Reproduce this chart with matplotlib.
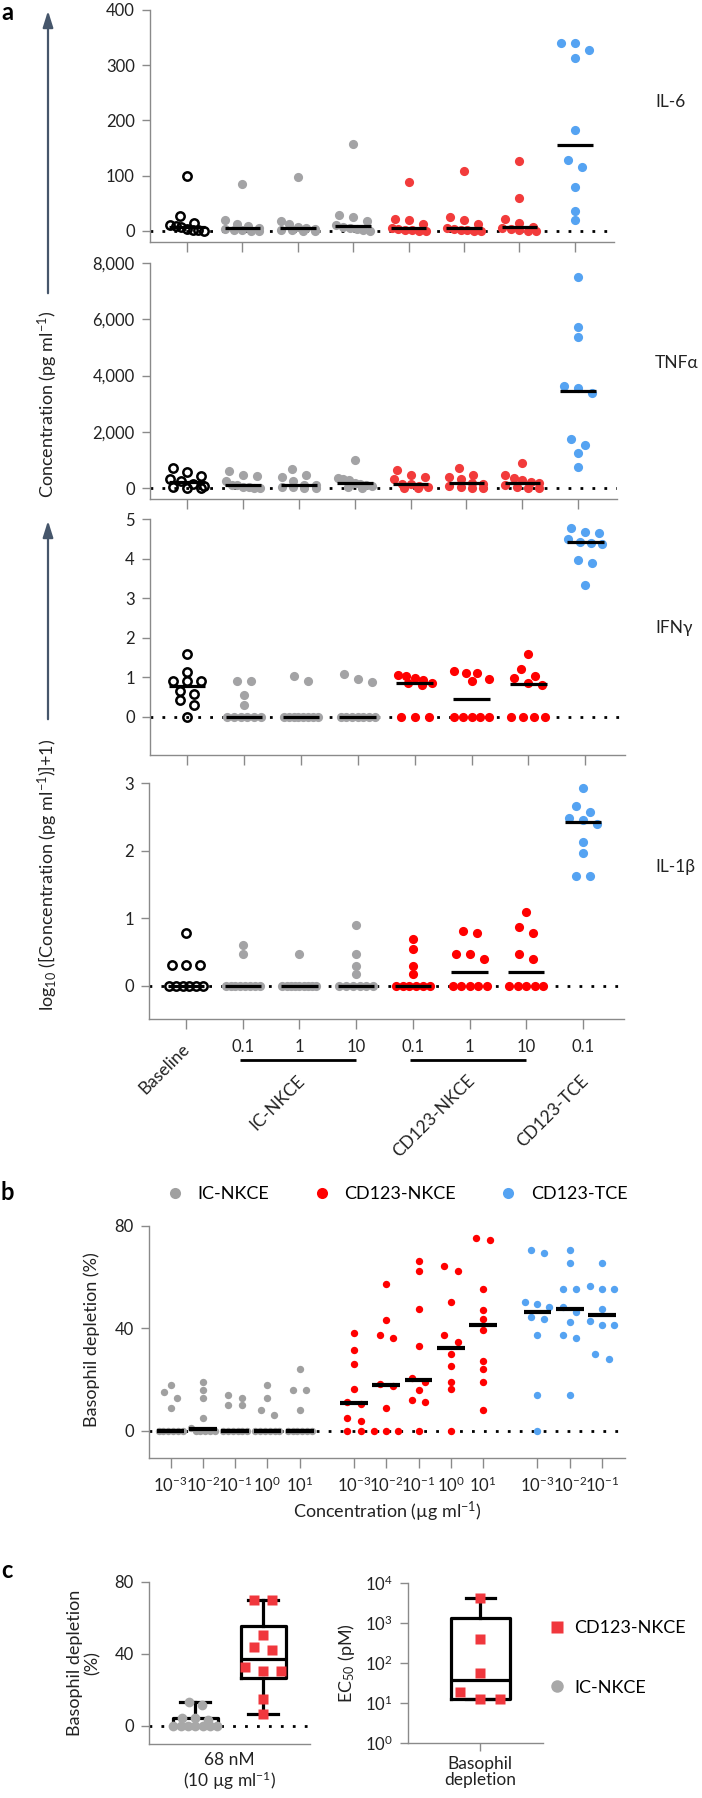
import numpy as np
import matplotlib
matplotlib.use('Agg')
import matplotlib.pyplot as plt
import matplotlib.transforms as mtransforms
from matplotlib.lines import Line2D
from matplotlib.patches import FancyArrowPatch

plt.rcParams['font.family'] = ['Lato', 'DejaVu Sans']
plt.rcParams['mathtext.fontset'] = 'custom'
plt.rcParams['mathtext.rm'] = 'Lato'
plt.rcParams['mathtext.it'] = 'Lato:italic'
plt.rcParams['mathtext.bf'] = 'Lato:bold'

W, H = 702, 1798
SPINE = '#8a8a8a'
TXT = '#222222'
GRAY = '#a3a3a5'
BLUE = '#55a3f2'

# ---------------- panel a: cytokines, 8 groups x 10 donors ----------------
a_groups = ['Baseline', 'IC-NKCE', 'CD123-NKCE', 'CD123-TCE']
a_doses = ['', '0.1', '1', '10', '0.1', '1', '10', '0.1']

il6 = [
    [100, 27, 15, 11, 9, 7, 3, 2, 1, 0],
    [85, 20, 12, 9, 6, 3, 2, 1, 0, 0],
    [97, 18, 12, 8, 6, 4, 2, 1, 0, 0],
    [157, 28, 25, 18, 10, 8, 5, 3, 1, 0],
    [88, 22, 20, 12, 6, 4, 2, 1, 0, 0],
    [108, 25, 20, 13, 6, 4, 2, 1, 0, 0],
    [126, 60, 22, 15, 8, 5, 3, 1, 0, 0],
    [340, 340, 328, 313, 183, 129, 116, 80, 36, 20],
]
tnfa = [
    [700, 560, 420, 330, 250, 150, 60, 30, 10, 0],
    [620, 480, 420, 250, 120, 90, 50, 30, 10, 0],
    [680, 460, 380, 250, 120, 100, 50, 30, 10, 0],
    [1000, 360, 320, 290, 180, 150, 120, 80, 40, 0],
    [640, 480, 400, 320, 160, 140, 80, 40, 10, 0],
    [700, 460, 400, 330, 180, 160, 80, 40, 10, 0],
    [900, 460, 360, 300, 200, 180, 100, 50, 10, 0],
    [7520, 5740, 5360, 3640, 3540, 3380, 1740, 1530, 1260, 760],
]
ifng = [
    [1.59, 1.13, 0.89, 0.89, 0.89, 0.64, 0.58, 0.41, 0.30, 0.0],
    [0.89, 0.89, 0.56, 0.30, 0, 0, 0, 0, 0, 0],
    [1.04, 0.89, 0, 0, 0, 0, 0, 0, 0, 0],
    [1.08, 0.96, 0.88, 0, 0, 0, 0, 0, 0, 0],
    [1.05, 1.02, 0.98, 0.92, 0.86, 0.84, 0.80, 0, 0, 0],
    [1.15, 1.10, 1.10, 0.96, 0.90, 0, 0, 0, 0, 0],
    [1.59, 1.21, 1.03, 0.98, 0.84, 0.80, 0, 0, 0, 0],
    [4.78, 4.67, 4.64, 4.50, 4.42, 4.40, 4.38, 3.96, 3.89, 3.32],
]
il1b = [
    [0.78, 0.31, 0.31, 0.31, 0, 0, 0, 0, 0, 0],
    [0.60, 0.47, 0, 0, 0, 0, 0, 0, 0, 0],
    [0.47, 0, 0, 0, 0, 0, 0, 0, 0, 0],
    [0.90, 0.47, 0.30, 0.17, 0, 0, 0, 0, 0, 0],
    [0.70, 0.55, 0.30, 0.18, 0, 0, 0, 0, 0, 0],
    [0.81, 0.78, 0.47, 0.47, 0.40, 0, 0, 0, 0, 0],
    [1.09, 0.87, 0.78, 0.47, 0.40, 0, 0, 0, 0, 0],
    [2.92, 2.66, 2.57, 2.48, 2.45, 2.40, 2.13, 1.97, 1.62, 1.62],
]

# ---------------- panel b: basophil depletion vs concentration ----------------
b_ticklabels = [r'$10^{-3}$', r'$10^{-2}$', r'$10^{-1}$', r'$10^{0}$', r'$10^{1}$',
                r'$10^{-3}$', r'$10^{-2}$', r'$10^{-1}$', r'$10^{0}$', r'$10^{1}$',
                r'$10^{-3}$', r'$10^{-2}$', r'$10^{-1}$']
b_ic_nkce = [
    [18, 15, 13, 9, 0, 0, 0, 0, 0, 0],
    [19, 16, 13, 5, 1.3, 0, 0, 0, 0, 0],
    [14, 13, 10, 10, 0, 0, 0, 0, 0, 0],
    [18, 13, 8, 6, 0, 0, 0, 0, 0, 0],
    [24, 16, 16, 8, 0, 0, 0, 0, 0, 0],
]
b_cd123_nkce = [
    [38.3, 31.4, 26.3, 16.4, 11.2, 10.4, 5.0, 4.0, 0, 0],
    [57.5, 43.4, 37.3, 36.4, 18.2, 17.4, 9.1, 0, 0, 0],
    [66.4, 62.5, 47.5, 33.3, 20.7, 19.0, 16.1, 12.2, 11.3, 0],
    [64.4, 62.5, 50.5, 37.3, 34.6, 30.2, 25.5, 19.2, 16.3, 0],
    [75.5, 74.6, 55.3, 47.3, 43.5, 39.3, 27.3, 24.2, 19.1, 8.2],
]
b_cd123_tce = [
    [70.6, 69.4, 50.3, 49.4, 48.5, 44.4, 43.5, 37.3, 14.1, 0],
    [70.6, 65.7, 55.3, 55.3, 48.5, 46.4, 42.5, 37.3, 36.3, 14.1],
    [65.7, 56.6, 55.3, 55.3, 47.5, 43.0, 41.3, 41.3, 30.2, 28.2],
]

# ---------------- panel c ----------------
c_ic_nkce = [13.2, 11.8, 4.6, 4.3, 3.5, 0, 0, 0, 0, 0, 0, 0]
c_cd123_nkce = [70, 70, 50.4, 43.7, 42.4, 32.6, 30.7, 30.7, 14.9, 6.7]
c_ec50 = [4200, 405, 56, 19, 12.8, 12.3]


def fig_ax(fig, left, top, right, bottom):
    return fig.add_axes([left / W, 1 - bottom / H, (right - left) / W, (bottom - top) / H])


def style(ax):
    for s in ['top', 'right']:
        ax.spines[s].set_visible(False)
    for s in ['left', 'bottom']:
        ax.spines[s].set_color(SPINE)
        ax.spines[s].set_linewidth(1)
    ax.tick_params(axis='both', colors=SPINE, labelcolor=TXT, labelsize=12,
                   length=6, width=1, pad=5)


def swarm_x(ax, center, values, row_px, step_px, half_px):
    values = np.asarray(values, float)
    n = len(values)
    disp = ax.transData.transform(np.column_stack([np.full(n, center), values]))
    order = np.argsort(-values, kind='stable')
    rows = []
    for i in order:
        if rows and abs(disp[rows[-1][0], 1] - disp[i, 1]) < row_px:
            rows[-1].append(i)
        else:
            rows.append([i])
    off = np.zeros(n)
    for r in rows:
        k = len(r)
        if k > 1:
            step = min(step_px, 2 * half_px / (k - 1))
            off[r] = (np.arange(k) - (k - 1) / 2) * step
    disp[:, 0] += off
    return ax.transData.inverted().transform(disp)[:, 0]


def dotted_zero(ax, lw=2):
    ax.axhline(0, color='black', lw=lw, ls=(0, (1, 3.3)), zorder=1)


def cyto_panel(ax, data, ylim, yticks, yticklabels, red, name, name_y):
    style(ax)
    ax.set_ylim(ylim)
    ax.set_yticks(yticks)
    ax.set_yticklabels(yticklabels)
    ax.set_xticks(range(8))
    ax.tick_params(axis='x', length=7, labelbottom=False)
    dotted_zero(ax)
    colors = ['black', GRAY, GRAY, GRAY, red, red, red, BLUE]
    for i, vals in enumerate(data):
        xs = swarm_x(ax, i, vals, 8, 14, 17)
        if i == 0:
            ax.plot(xs, vals, 'o', mfc='none', mec='black', mew=1.8, ms=6,
                    ls='none', zorder=3)
        else:
            ax.plot(xs, vals, 'o', color=colors[i], mec='none', ms=6.6,
                    ls='none', zorder=3)
        ax.hlines(np.median(vals), i - 0.32, i + 0.32, color='black', lw=2.3, zorder=4)
    ax.text(655 / W, 1 - name_y / H, name, transform=ax.figure.transFigure,
            ha='left', va='center', fontsize=12.5, color=TXT)


fig = plt.figure(figsize=(W / 100, H / 100), dpi=100)

# -------- panel a --------
ax_il6 = fig_ax(fig, 150, 10, 614, 242)
ax_il6.set_xlim((150 - 187) / 55.4, (614 - 187) / 55.4)
cyto_panel(ax_il6, il6, (-20, 400), [0, 100, 200, 300, 400],
           ['0', '100', '200', '300', '400'], '#f23b3b', 'IL-6', 102)

ax_tnf = fig_ax(fig, 150, 263, 617, 499)
ax_tnf.set_xlim((150 - 187) / 55.9, (617 - 187) / 55.9)
cyto_panel(ax_tnf, tnfa, (-391, 8000), [0, 2000, 4000, 6000, 8000],
           ['0', '2,000', '4,000', '6,000', '8,000'], '#f23b3b', 'TNFα', 363)

ax_ifn = fig_ax(fig, 150, 519, 625, 755)
ax_ifn.set_xlim((150 - 187) / 56.9, (625 - 187) / 56.9)
cyto_panel(ax_ifn, ifng, (-0.97, 5), [0, 1, 2, 3, 4, 5],
           ['0', '1', '2', '3', '4', '5'], '#ff0000', 'IFNγ', 628)

ax_il1 = fig_ax(fig, 149, 783, 624, 1019)
ax_il1.set_xlim((149 - 186) / 56.7, (624 - 186) / 56.7)
cyto_panel(ax_il1, il1b, (-0.49, 3), [0, 1, 2, 3],
           ['0', '1', '2', '3'], '#ff0000', 'IL-1β', 867)

# category labels under IL-1b
bt = mtransforms.blended_transform_factory(ax_il1.transData, fig.transFigure)
for i, d in enumerate(a_doses):
    if d:
        ax_il1.text(i, 1 - 1047 / H, d, transform=bt, ha='center', va='center',
                    fontsize=12, color=TXT)
for x0, x1 in [(0.95, 3.0), (3.95, 6.0)]:
    ax_il1.plot([x0, x1], [1 - 1060 / H] * 2, transform=bt, color='black',
                lw=2, clip_on=False, solid_capstyle='butt')
for x, lab, y in [(0.02, a_groups[0], 1046), (2.05, a_groups[1], 1078),
                  (5.05, a_groups[2], 1078), (7.05, a_groups[3], 1078)]:
    ax_il1.text(x, 1 - y / H, lab, transform=bt, ha='right', va='center',
                rotation=45, rotation_mode='anchor', fontsize=12.5, color=TXT)

# left axis titles with arrows
arrow_kw = dict(transform=fig.transFigure, arrowstyle='-|>,head_width=0.22,head_length=0.7',
                mutation_scale=14, lw=1.6, color='#46566b')
fig.add_artist(FancyArrowPatch((48 / W, 1 - 296 / H), (48 / W, 1 - 8 / H), **arrow_kw))
fig.add_artist(FancyArrowPatch((48 / W, 1 - 722 / H), (48 / W, 1 - 518 / H), **arrow_kw))
fig.text(48 / W, 1 - 404 / H, r'Concentration (pg ml$^{-1}$)', rotation=90,
         ha='center', va='center', fontsize=13, color=TXT)
fig.text(48 / W, 1 - 875 / H, r'log$_{10}$ ([Concentration (pg ml$^{-1}$)]+1)',
         rotation=90, ha='center', va='center', fontsize=13, color=TXT)

# -------- panel b --------
ax_b = fig_ax(fig, 149, 1226, 625, 1458)
style(ax_b)
b_pos = np.r_[np.arange(5), np.arange(5) + 5.68, np.arange(3) + 11.36]
ax_b.set_xlim((149 - 170.5) / 32.3, (625 - 170.5) / 32.3)
ax_b.set_ylim(-10.6, 80)
ax_b.set_yticks([0, 40, 80])
ax_b.set_xticks(b_pos)
ax_b.set_xticklabels(b_ticklabels)
ax_b.tick_params(axis='x', length=7, labelsize=12, pad=6)
dotted_zero(ax_b)
b_sets = [(b_ic_nkce, '#a0a0a0'), (b_cd123_nkce, '#ff0000'), (b_cd123_tce, BLUE)]
k = 0
for sets, col in b_sets:
    for vals in sets:
        xs = swarm_x(ax_b, b_pos[k], vals, 7, 13.5, 12)
        ax_b.plot(xs, vals, 'o', color=col, mec='none', ms=5.3, ls='none', zorder=3)
        ax_b.hlines(np.median(vals), b_pos[k] - 0.43, b_pos[k] + 0.43,
                    color='black', lw=3, zorder=4)
        k += 1
ax_b.set_xlabel(r'Concentration (µg ml$^{-1}$)', fontsize=13, color=TXT, labelpad=3)
fig.text(92 / W, 1 - 1340 / H, 'Basophil depletion (%)', rotation=90,
         ha='center', va='center', fontsize=13, color=TXT)
b_handles = [Line2D([], [], marker='o', ls='none', color=c, mec='none', ms=8)
             for c in ['#a0a0a0', '#ff0000', BLUE]]
fig.legend(b_handles, ['IC-NKCE', 'CD123-NKCE', 'CD123-TCE'], ncol=3,
           loc='center left', bbox_to_anchor=(168 / W, 1 - 1194 / H), frameon=False,
           fontsize=13, handlelength=0.8, handletextpad=0.85, columnspacing=2.5,
           borderpad=0, borderaxespad=0)

# -------- panel c --------
def box_stats(v):
    v = np.asarray(v, float)
    q1, med, q3 = np.percentile(v, [25, 50, 75], method='weibull')
    return dict(med=med, q1=q1, q3=q3, whislo=v.min(), whishi=v.max(), fliers=[])


line_kw = dict(color='black', lw=2.3)
ax_c1 = fig_ax(fig, 149, 1582, 310, 1744)
style(ax_c1)
ax_c1.set_xlim(-0.68, 1.69)
ax_c1.set_ylim(-10, 80)
ax_c1.set_yticks([0, 40, 80])
dotted_zero(ax_c1)
ax_c1.bxp([box_stats(c_ic_nkce), box_stats(c_cd123_nkce)], positions=[0, 1], widths=0.66,
          capwidths=0.44, showfliers=False, boxprops=line_kw, whiskerprops=line_kw,
          capprops=line_kw, medianprops=line_kw, zorder=2)
xs = swarm_x(ax_c1, 0, c_ic_nkce, 8, 13, 22)
ax_c1.plot(xs, c_ic_nkce, 'o', color='#a8a8a8', mec='none', ms=7, ls='none', zorder=3)
xs = swarm_x(ax_c1, 1, c_cd123_nkce, 8, 18, 20)
ax_c1.plot(xs, c_cd123_nkce, 's', color='#f0373d', mec='none', ms=7, ls='none', zorder=3)
ax_c1.set_xticks([0.5])
ax_c1.set_xticklabels(['68 nM\n(10 µg ml$^{-1}$)'], fontsize=12.5, linespacing=1.05)
ax_c1.tick_params(axis='x', length=0, pad=6)
fig.text(84 / W, 1 - 1663 / H, 'Basophil depletion\n(%)', rotation=90, ha='center',
         va='center', multialignment='center', fontsize=13, color=TXT, linespacing=1.1)

ax_c2 = fig_ax(fig, 408, 1583, 543, 1743)
style(ax_c2)
ax_c2.set_yscale('log')
ax_c2.set_xlim(-1.07, 0.93)
ax_c2.set_ylim(1, 1e4)
ax_c2.set_yticks([1, 10, 100, 1000, 10000])
ax_c2.set_yticklabels([r'$10^{0}$', r'$10^{1}$', r'$10^{2}$', r'$10^{3}$', r'$10^{4}$'])
ax_c2.yaxis.set_minor_locator(matplotlib.ticker.NullLocator())
ax_c2.bxp([box_stats(c_ec50)], positions=[0], widths=0.87, capwidths=0.43,
          showfliers=False, boxprops=line_kw, whiskerprops=line_kw,
          capprops=line_kw, medianprops=line_kw, zorder=2)
xs = swarm_x(ax_c2, 0, c_ec50, 8, 32, 20)
ax_c2.plot(xs, c_ec50, 's', color='#f0373d', mec='none', ms=7, ls='none', zorder=3)
ax_c2.set_xticks([0])
ax_c2.set_xticklabels(['Basophil\ndepletion'], fontsize=12.5, linespacing=1.05)
ax_c2.tick_params(axis='x', length=6, pad=3)
ax_c2.set_ylabel(r'EC$_{50}$ (pM)', fontsize=13, color=TXT, labelpad=6)

c_handles = [Line2D([], [], marker='s', ls='none', color='#f0373d', mec='none', ms=9),
             Line2D([], [], marker='o', ls='none', color='#a8a8a8', mec='none', ms=9)]
fig.legend(c_handles, ['CD123-NKCE', 'IC-NKCE'], loc='center left',
           bbox_to_anchor=(550 / W, 1 - 1658 / H), frameon=False, fontsize=13,
           handlelength=0.8, handletextpad=0.55, labelspacing=2.4, borderpad=0,
           borderaxespad=0)

# panel letters
for lab, y in [('a', 12), ('b', 1192), ('c', 1570)]:
    fig.text(1 / W, 1 - y / H, lab, fontsize=17, fontweight='bold', ha='left',
             va='center', color='black')

fig.savefig('out.png', dpi=100)
